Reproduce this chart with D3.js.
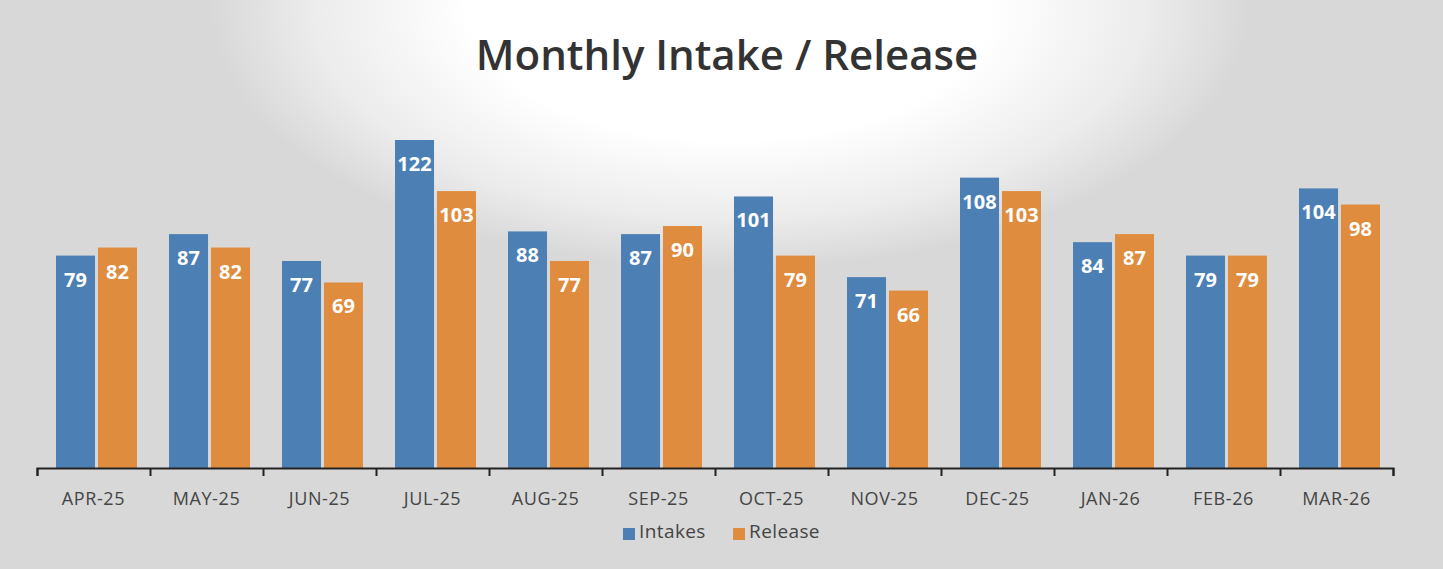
<!DOCTYPE html>
<html>
<head>
<meta charset="utf-8">
<script src="https://cdn.jsdelivr.net/npm/d3@7"></script>
<style>
  body { margin: 0; background: #d8d8d8; }
  svg { display: block; }
</style>
</head>
<body>
<svg width="1443" height="569"></svg>
<script>
const months = ["APR-25","MAY-25","JUN-25","JUL-25","AUG-25","SEP-25","OCT-25","NOV-25","DEC-25","JAN-26","FEB-26","MAR-26"];
const intakes = [79, 87, 77, 122, 88, 87, 101, 71, 108, 84, 79, 104];
const release = [82, 82, 69, 103, 77, 90, 79, 66, 103, 87, 79, 98];
const seriesNames = ["Intakes", "Release"];
const colors = ["#4c80b5", "#e08c3e"];

const svg = d3.select("svg");
const width = +svg.attr("width");
const height = +svg.attr("height");

const axisY = 468;
const left = 37, right = 1393;

// background: gray with white glow behind title
const defs = svg.append("defs");
const grad = defs.append("radialGradient")
  .attr("id", "glow")
  .attr("gradientUnits", "userSpaceOnUse")
  .attr("cx", 730).attr("cy", 10).attr("r", 520)
  .attr("gradientTransform", "translate(730,10) scale(1,0.5) translate(-730,-10)");
grad.append("stop").attr("offset", "0%").attr("stop-color", "#ffffff");
grad.append("stop").attr("offset", "50%").attr("stop-color", "#ffffff");
grad.append("stop").attr("offset", "80%").attr("stop-color", "#ececec");
grad.append("stop").attr("offset", "100%").attr("stop-color", "#d8d8d8");

svg.append("rect").attr("width", width).attr("height", height).attr("fill", "#d8d8d8");
svg.append("rect").attr("width", width).attr("height", height).attr("fill", "url(#glow)");

const data = months.map((m, i) => ({ month: m, values: [intakes[i], release[i]] }));

const x0 = d3.scaleBand().domain(months).range([left, right]).padding(0);
const x1 = d3.scaleBand().domain(seriesNames).range([19, 100]).paddingInner(0.07);
const y = d3.scaleLinear().domain([0, 122]).range([axisY, 140]);

// title
svg.append("text")
  .attr("x", 727).attr("y", 70)
  .attr("text-anchor", "middle")
  .attr("font-family", "Open Sans, sans-serif")
  .attr("font-weight", 600)
  .attr("font-size", 42)
  .attr("fill", "#333")
  .text("Monthly Intake / Release");

// bars
const groups = svg.selectAll("g.month")
  .data(data)
  .enter()
  .append("g")
  .attr("class", "month")
  .attr("transform", d => `translate(${x0(d.month)},0)`);

const cells = d => d.values.map((v, i) => ({ key: seriesNames[i], value: v, i }));

groups.selectAll("rect")
  .data(cells)
  .enter()
  .append("rect")
  .attr("x", d => x1(d.key))
  .attr("y", d => y(d.value))
  .attr("width", x1.bandwidth())
  .attr("height", d => axisY - y(d.value))
  .attr("fill", d => colors[d.i]);

groups.selectAll("text")
  .data(cells)
  .enter()
  .append("text")
  .attr("x", d => x1(d.key) + x1.bandwidth() / 2)
  .attr("y", d => y(d.value) + 31)
  .attr("text-anchor", "middle")
  .attr("font-family", "Open Sans, sans-serif")
  .attr("font-weight", 700)
  .attr("font-size", 20)
  .attr("fill", "#ffffff")
  .text(d => d.value);

// axis line with ticks at category boundaries
const xb = d3.scaleLinear().domain([0, months.length]).range([left, right]);
const boundaryAxis = d3.axisBottom(xb)
  .tickValues(d3.range(0, months.length + 1))
  .tickSize(8)
  .tickFormat("");

svg.append("g")
  .attr("transform", `translate(0,${axisY})`)
  .call(boundaryAxis)
  .call(g => g.selectAll("path,line").attr("stroke", "#222").attr("stroke-width", 2));

// category labels
const labelAxis = d3.axisBottom(x0).tickSize(0).tickPadding(24);
svg.append("g")
  .attr("transform", `translate(0,${axisY})`)
  .call(labelAxis)
  .call(g => g.select(".domain").remove())
  .call(g => g.selectAll("text")
    .attr("font-family", "Open Sans, sans-serif")
    .attr("font-size", 18)
    .attr("letter-spacing", 0.6)
    .attr("fill", "#444"));

// legend
const legendItems = [
  { name: "Intakes", color: colors[0], x: 623 },
  { name: "Release", color: colors[1], x: 733 }
];
const legend = svg.append("g").attr("transform", "translate(0,531)");
legend.selectAll("rect")
  .data(legendItems)
  .enter()
  .append("rect")
  .attr("x", d => d.x)
  .attr("y", -3)
  .attr("width", 12)
  .attr("height", 12)
  .attr("fill", d => d.color);
legend.selectAll("text")
  .data(legendItems)
  .enter()
  .append("text")
  .attr("x", d => d.x + 16)
  .attr("y", 7)
  .attr("font-family", "Open Sans, sans-serif")
  .attr("font-size", 19)
  .attr("letter-spacing", 0.4)
  .attr("fill", "#444")
  .text(d => d.name);
</script>
</body>
</html>
